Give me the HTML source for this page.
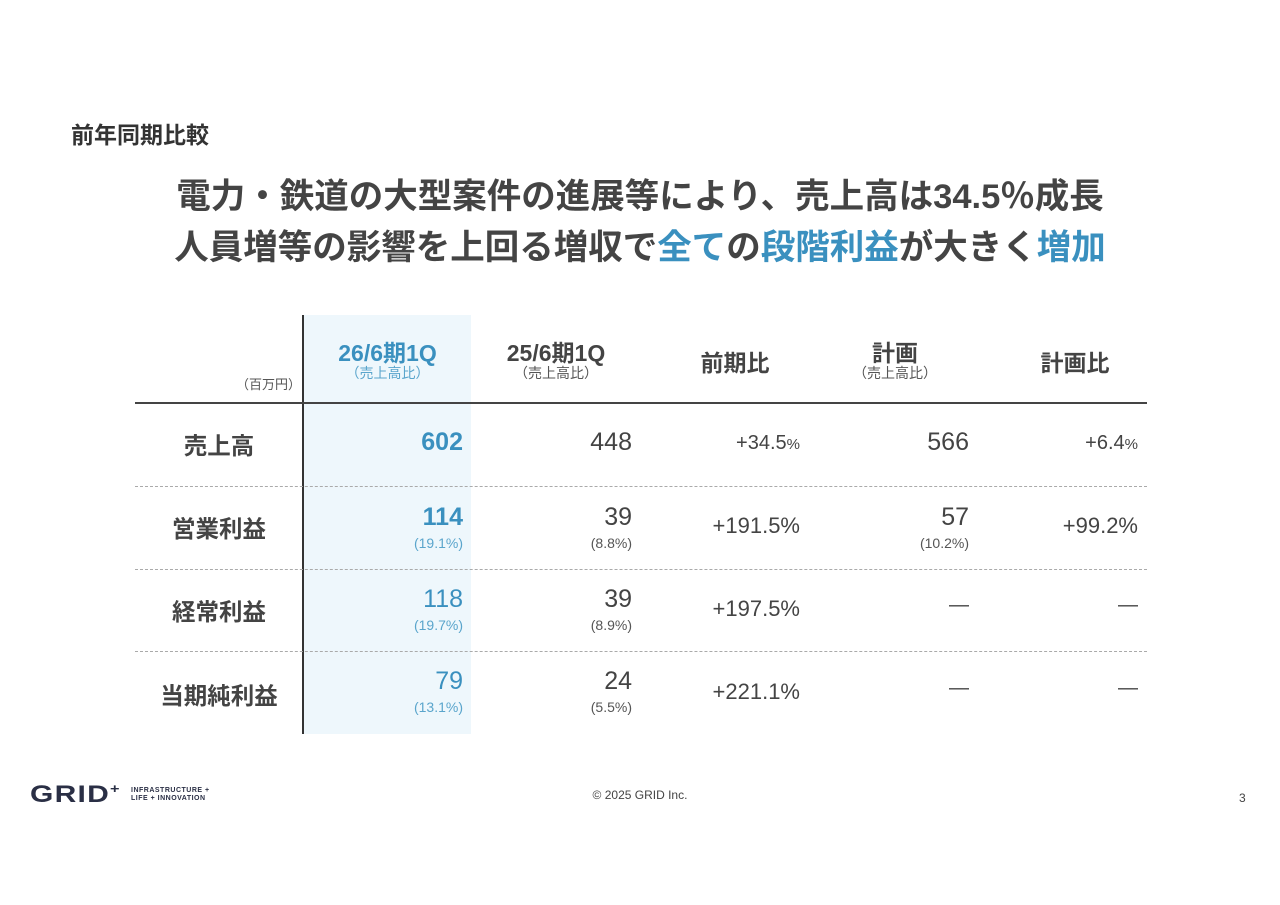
<!DOCTYPE html>
<html><head><meta charset="utf-8"><style>
body{margin:0;width:1280px;height:905px;background:#fff;position:relative;overflow:hidden;font-family:"Liberation Sans","Noto Sans CJK JP",sans-serif;color:#444}
.a{position:absolute;white-space:nowrap}
.b{color:#3a90bf}
.r{text-align:right}
.c{text-align:center}
.v{font-size:25px;font-weight:300}
.s{font-size:14px;color:#555}
.lbl{font-size:23.5px;font-weight:bold;width:168px;text-align:center;left:135px}
.hd{font-size:23px;font-weight:bold}
.dl{position:absolute;left:135px;width:1012px;border-top:1px dashed #aaa;height:0}
</style></head><body>
<div class="a" style="left:71px;top:116px;font-size:23px;font-weight:bold;color:#333">前年同期比較</div>
<div class="a c" style="left:0;width:1280px;top:172px;font-size:34.5px;font-weight:bold;line-height:51px;color:#444">電力・鉄道の大型案件の進展等により、売上高は34.5％成長<br>人員増等の影響を上回る増収で<span class="b">全て</span>の<span class="b">段階利益</span>が大きく<span class="b">増加</span></div>

<div class="a" style="left:304px;top:315px;width:167px;height:419px;background:#eef7fc"></div>
<div class="a" style="left:302px;top:315px;width:2px;height:419px;background:#333"></div>
<div class="a" style="left:135px;top:402px;width:1012px;height:2px;background:#444"></div>
<div class="dl" style="top:486px"></div>
<div class="dl" style="top:569px"></div>
<div class="dl" style="top:651px"></div>

<div class="a s" style="left:236px;top:374px;font-size:13px">（百万円）</div>
<div class="a c hd b" style="left:304px;width:167px;top:334px">26/6期1Q</div>
<div class="a c s b" style="left:304px;width:167px;top:363px;color:#5aa5cc">（売上高比）</div>
<div class="a c hd" style="left:472px;width:168px;top:334px">25/6期1Q</div>
<div class="a c s" style="left:472px;width:168px;top:363px">（売上高比）</div>
<div class="a c hd" style="left:650px;width:170px;top:344px">前期比</div>
<div class="a c hd" style="left:810px;width:170px;top:334px">計画</div>
<div class="a c s" style="left:810px;width:170px;top:363px">（売上高比）</div>
<div class="a c hd" style="left:990px;width:170px;top:344px">計画比</div>

<div class="a lbl" style="top:427px">売上高</div>
<div class="a lbl" style="top:510px">営業利益</div>
<div class="a lbl" style="top:593px">経常利益</div>
<div class="a lbl" style="top:677px">当期純利益</div>

<div class="a r v b" style="right:817px;top:428px;font-weight:bold">602</div>
<div class="a r v" style="right:648px;top:428px">448</div>
<div class="a r" style="right:480px;top:432px;font-size:20px;font-weight:300">+34.5<span style="font-size:15px">%</span></div>
<div class="a r v" style="right:311px;top:428px">566</div>
<div class="a r" style="right:142px;top:432px;font-size:20px;font-weight:300">+6.4<span style="font-size:15px">%</span></div>

<div class="a r v b" style="right:817px;top:503px;font-weight:bold">114</div>
<div class="a r s b" style="right:817px;top:535px;color:#5aa5cc">(19.1%)</div>
<div class="a r v" style="right:648px;top:503px">39</div>
<div class="a r s" style="right:648px;top:535px">(8.8%)</div>
<div class="a r v" style="right:480px;top:513px;font-size:22px">+191.5%</div>
<div class="a r v" style="right:311px;top:503px">57</div>
<div class="a r s" style="right:311px;top:535px">(10.2%)</div>
<div class="a r v" style="right:142px;top:513px;font-size:22px">+99.2%</div>

<div class="a r v b" style="right:817px;top:585px">118</div>
<div class="a r s b" style="right:817px;top:617px;color:#5aa5cc">(19.7%)</div>
<div class="a r v" style="right:648px;top:585px">39</div>
<div class="a r s" style="right:648px;top:617px">(8.9%)</div>
<div class="a r v" style="right:480px;top:596px;font-size:22px">+197.5%</div>
<div class="a r v" style="right:311px;top:594px;font-size:20px">—</div>
<div class="a r v" style="right:142px;top:594px;font-size:20px">—</div>

<div class="a r v b" style="right:817px;top:667px">79</div>
<div class="a r s b" style="right:817px;top:699px;color:#5aa5cc">(13.1%)</div>
<div class="a r v" style="right:648px;top:667px">24</div>
<div class="a r s" style="right:648px;top:699px">(5.5%)</div>
<div class="a r v" style="right:480px;top:679px;font-size:22px">+221.1%</div>
<div class="a r v" style="right:311px;top:677px;font-size:20px">—</div>
<div class="a r v" style="right:142px;top:677px;font-size:20px">—</div>

<div class="a" style="left:30px;top:781px;font-size:24px;font-weight:bold;color:#2a2f45;letter-spacing:1px;transform:scaleX(1.25);transform-origin:left">GRID<sup style="font-size:13px">+</sup></div>
<div class="a" style="left:131px;top:787px;font-size:7px;line-height:8px;font-weight:bold;color:#2a2f45;letter-spacing:0.5px">INFRASTRUCTURE +<br>LIFE + INNOVATION</div>
<div class="a c" style="left:540px;width:200px;top:788px;font-size:12px;color:#444">© 2025 GRID Inc.</div>
<div class="a" style="left:1239px;top:791px;font-size:12px;color:#444">3</div>
</body></html>
